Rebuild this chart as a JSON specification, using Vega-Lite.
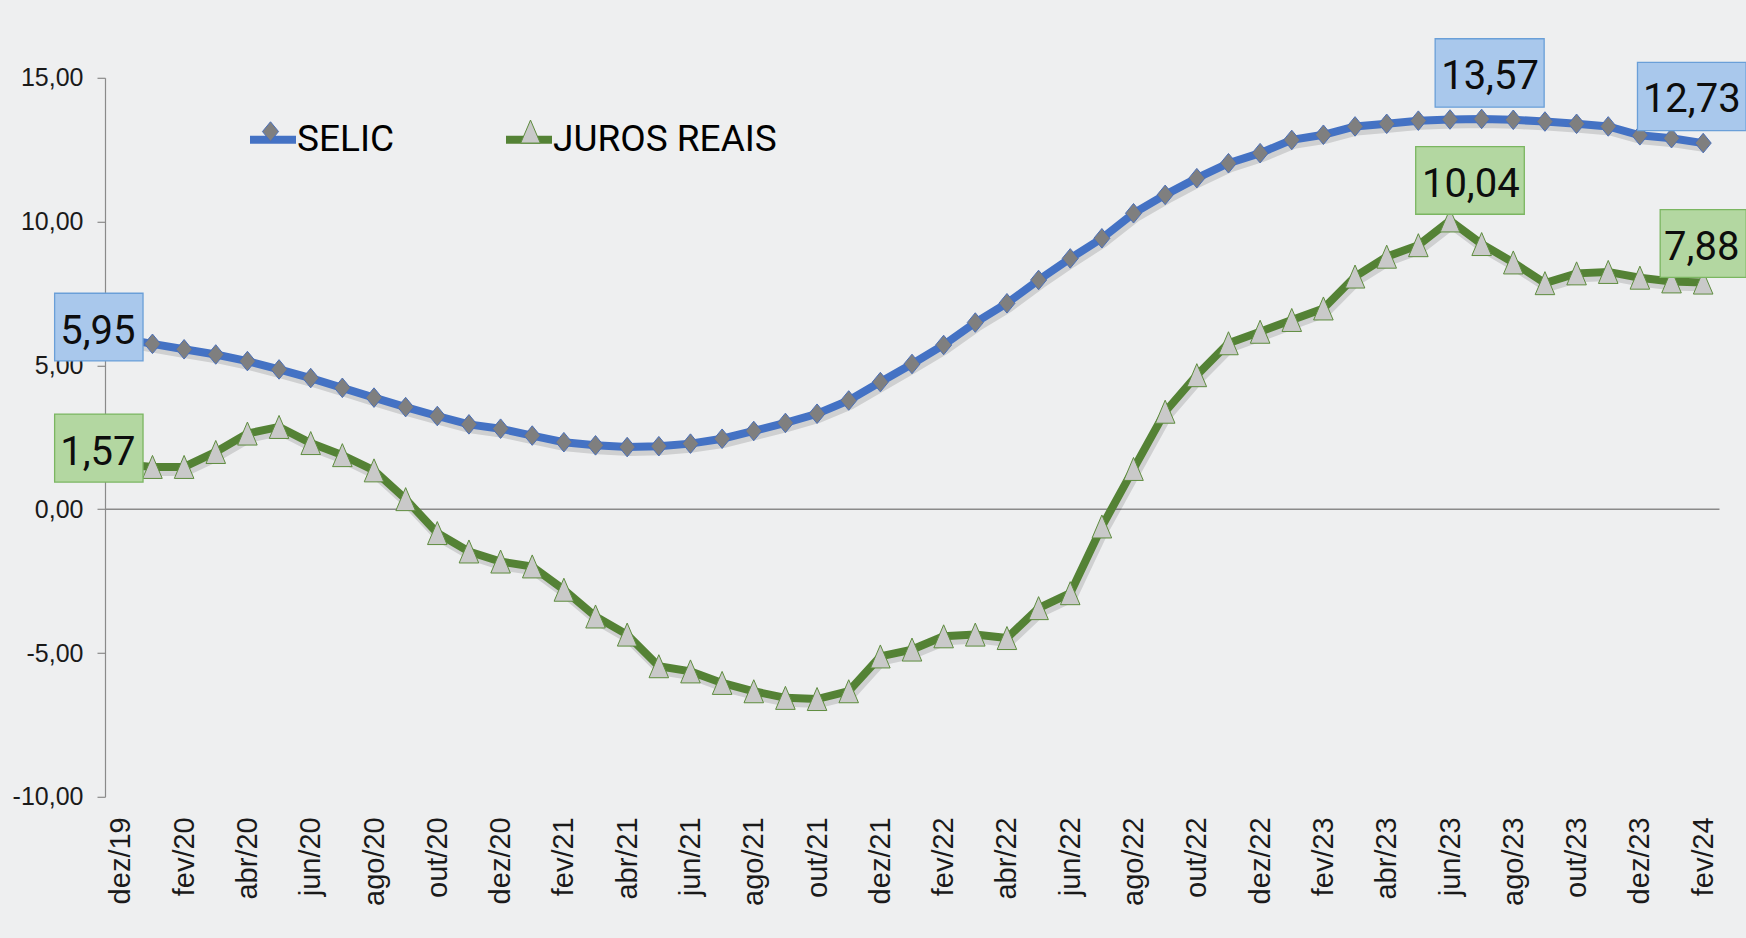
{
  "$schema": "https://vega.github.io/schema/vega-lite/v6.json",
  "width": 1614,
  "height": 719,
  "autosize": {"type": "none"},
  "padding": {"left": 105, "top": 77.8, "right": 27, "bottom": 141.2},
  "background": "#eeeff0",
  "config": {
    "view": {"stroke": null},
    "locale": {"number": {"decimal": ",", "thousands": ".", "grouping": [3], "currency": ["R$", ""], "minus": "-"}}
  },
  "datasets": {
    "taxas": [
      {"mes": "dez/19", "serie": "SELIC", "valor": 5.95},
      {"mes": "jan/20", "serie": "SELIC", "valor": 5.75},
      {"mes": "fev/20", "serie": "SELIC", "valor": 5.56},
      {"mes": "mar/20", "serie": "SELIC", "valor": 5.38},
      {"mes": "abr/20", "serie": "SELIC", "valor": 5.15},
      {"mes": "mai/20", "serie": "SELIC", "valor": 4.86},
      {"mes": "jun/20", "serie": "SELIC", "valor": 4.56},
      {"mes": "jul/20", "serie": "SELIC", "valor": 4.22},
      {"mes": "ago/20", "serie": "SELIC", "valor": 3.88},
      {"mes": "set/20", "serie": "SELIC", "valor": 3.55},
      {"mes": "out/20", "serie": "SELIC", "valor": 3.24},
      {"mes": "nov/20", "serie": "SELIC", "valor": 2.95},
      {"mes": "dez/20", "serie": "SELIC", "valor": 2.80},
      {"mes": "jan/21", "serie": "SELIC", "valor": 2.56},
      {"mes": "fev/21", "serie": "SELIC", "valor": 2.33},
      {"mes": "mar/21", "serie": "SELIC", "valor": 2.22},
      {"mes": "abr/21", "serie": "SELIC", "valor": 2.16},
      {"mes": "mai/21", "serie": "SELIC", "valor": 2.19},
      {"mes": "jun/21", "serie": "SELIC", "valor": 2.28},
      {"mes": "jul/21", "serie": "SELIC", "valor": 2.45},
      {"mes": "ago/21", "serie": "SELIC", "valor": 2.72},
      {"mes": "set/21", "serie": "SELIC", "valor": 3.00},
      {"mes": "out/21", "serie": "SELIC", "valor": 3.32},
      {"mes": "nov/21", "serie": "SELIC", "valor": 3.78},
      {"mes": "dez/21", "serie": "SELIC", "valor": 4.42},
      {"mes": "jan/22", "serie": "SELIC", "valor": 5.05},
      {"mes": "fev/22", "serie": "SELIC", "valor": 5.71},
      {"mes": "mar/22", "serie": "SELIC", "valor": 6.49},
      {"mes": "abr/22", "serie": "SELIC", "valor": 7.16},
      {"mes": "mai/22", "serie": "SELIC", "valor": 7.97},
      {"mes": "jun/22", "serie": "SELIC", "valor": 8.72},
      {"mes": "jul/22", "serie": "SELIC", "valor": 9.42},
      {"mes": "ago/22", "serie": "SELIC", "valor": 10.29},
      {"mes": "set/22", "serie": "SELIC", "valor": 10.93},
      {"mes": "out/22", "serie": "SELIC", "valor": 11.51},
      {"mes": "nov/22", "serie": "SELIC", "valor": 12.03},
      {"mes": "dez/22", "serie": "SELIC", "valor": 12.38},
      {"mes": "jan/23", "serie": "SELIC", "valor": 12.84},
      {"mes": "fev/23", "serie": "SELIC", "valor": 13.02},
      {"mes": "mar/23", "serie": "SELIC", "valor": 13.31},
      {"mes": "abr/23", "serie": "SELIC", "valor": 13.40},
      {"mes": "mai/23", "serie": "SELIC", "valor": 13.51},
      {"mes": "jun/23", "serie": "SELIC", "valor": 13.55},
      {"mes": "jul/23", "serie": "SELIC", "valor": 13.57},
      {"mes": "ago/23", "serie": "SELIC", "valor": 13.54},
      {"mes": "set/23", "serie": "SELIC", "valor": 13.48},
      {"mes": "out/23", "serie": "SELIC", "valor": 13.40},
      {"mes": "nov/23", "serie": "SELIC", "valor": 13.31},
      {"mes": "dez/23", "serie": "SELIC", "valor": 13.00},
      {"mes": "jan/24", "serie": "SELIC", "valor": 12.90},
      {"mes": "fev/24", "serie": "SELIC", "valor": 12.73},
      {"mes": "dez/19", "serie": "JUROS REAIS", "valor": 1.57},
      {"mes": "jan/20", "serie": "JUROS REAIS", "valor": 1.47},
      {"mes": "fev/20", "serie": "JUROS REAIS", "valor": 1.47},
      {"mes": "mar/20", "serie": "JUROS REAIS", "valor": 1.99},
      {"mes": "abr/20", "serie": "JUROS REAIS", "valor": 2.63},
      {"mes": "mai/20", "serie": "JUROS REAIS", "valor": 2.86},
      {"mes": "jun/20", "serie": "JUROS REAIS", "valor": 2.30},
      {"mes": "jul/20", "serie": "JUROS REAIS", "valor": 1.88},
      {"mes": "ago/20", "serie": "JUROS REAIS", "valor": 1.35},
      {"mes": "set/20", "serie": "JUROS REAIS", "valor": 0.35},
      {"mes": "out/20", "serie": "JUROS REAIS", "valor": -0.83},
      {"mes": "nov/20", "serie": "JUROS REAIS", "valor": -1.47},
      {"mes": "dez/20", "serie": "JUROS REAIS", "valor": -1.82},
      {"mes": "jan/21", "serie": "JUROS REAIS", "valor": -1.99},
      {"mes": "fev/21", "serie": "JUROS REAIS", "valor": -2.80},
      {"mes": "mar/21", "serie": "JUROS REAIS", "valor": -3.73},
      {"mes": "abr/21", "serie": "JUROS REAIS", "valor": -4.36},
      {"mes": "mai/21", "serie": "JUROS REAIS", "valor": -5.46},
      {"mes": "jun/21", "serie": "JUROS REAIS", "valor": -5.64},
      {"mes": "jul/21", "serie": "JUROS REAIS", "valor": -6.04},
      {"mes": "ago/21", "serie": "JUROS REAIS", "valor": -6.33},
      {"mes": "set/21", "serie": "JUROS REAIS", "valor": -6.56},
      {"mes": "out/21", "serie": "JUROS REAIS", "valor": -6.60},
      {"mes": "nov/21", "serie": "JUROS REAIS", "valor": -6.33},
      {"mes": "dez/21", "serie": "JUROS REAIS", "valor": -5.12},
      {"mes": "jan/22", "serie": "JUROS REAIS", "valor": -4.88},
      {"mes": "fev/22", "serie": "JUROS REAIS", "valor": -4.42},
      {"mes": "mar/22", "serie": "JUROS REAIS", "valor": -4.36},
      {"mes": "abr/22", "serie": "JUROS REAIS", "valor": -4.48},
      {"mes": "mai/22", "serie": "JUROS REAIS", "valor": -3.44},
      {"mes": "jun/22", "serie": "JUROS REAIS", "valor": -2.92},
      {"mes": "jul/22", "serie": "JUROS REAIS", "valor": -0.60},
      {"mes": "ago/22", "serie": "JUROS REAIS", "valor": 1.40},
      {"mes": "set/22", "serie": "JUROS REAIS", "valor": 3.39},
      {"mes": "out/22", "serie": "JUROS REAIS", "valor": 4.66},
      {"mes": "nov/22", "serie": "JUROS REAIS", "valor": 5.77},
      {"mes": "dez/22", "serie": "JUROS REAIS", "valor": 6.17},
      {"mes": "jan/23", "serie": "JUROS REAIS", "valor": 6.58},
      {"mes": "fev/23", "serie": "JUROS REAIS", "valor": 6.98},
      {"mes": "mar/23", "serie": "JUROS REAIS", "valor": 8.09},
      {"mes": "abr/23", "serie": "JUROS REAIS", "valor": 8.78},
      {"mes": "mai/23", "serie": "JUROS REAIS", "valor": 9.18},
      {"mes": "jun/23", "serie": "JUROS REAIS", "valor": 10.04},
      {"mes": "jul/23", "serie": "JUROS REAIS", "valor": 9.22},
      {"mes": "ago/23", "serie": "JUROS REAIS", "valor": 8.58},
      {"mes": "set/23", "serie": "JUROS REAIS", "valor": 7.86},
      {"mes": "out/23", "serie": "JUROS REAIS", "valor": 8.20},
      {"mes": "nov/23", "serie": "JUROS REAIS", "valor": 8.25},
      {"mes": "dez/23", "serie": "JUROS REAIS", "valor": 8.05},
      {"mes": "jan/24", "serie": "JUROS REAIS", "valor": 7.92},
      {"mes": "fev/24", "serie": "JUROS REAIS", "valor": 7.88}
    ]
  },
  "data": {"name": "taxas"},
  "encoding": {
    "x": {
      "field": "mes",
      "type": "ordinal",
      "sort": null,
      "scale": {"type": "point", "padding": 0.5},
      "axis": {
        "values": ["dez/19", "fev/20", "abr/20", "jun/20", "ago/20", "out/20", "dez/20", "fev/21", "abr/21", "jun/21", "ago/21", "out/21", "dez/21", "fev/22", "abr/22", "jun/22", "ago/22", "out/22", "dez/22", "fev/23", "abr/23", "jun/23", "ago/23", "out/23", "dez/23", "fev/24"],
        "title": null,
        "domain": false,
        "ticks": false,
        "grid": false,
        "labelAngle": 270,
        "labelPadding": 20,
        "labelFont": "Liberation Sans",
        "labelFontSize": 29,
        "labelColor": "#1a1a1a"
      }
    },
    "y": {
      "field": "valor",
      "type": "quantitative",
      "scale": {"domain": [-10, 15], "nice": false, "zero": false},
      "axis": {
        "values": [-10, -5, 0, 5, 10, 15],
        "format": ".2f",
        "title": null,
        "grid": true,
        "gridColor": {"condition": {"test": "datum.value === 0", "value": "#8a8a8a"}, "value": "transparent"},
        "gridWidth": 1.5,
        "domainColor": "#8a8a8a",
        "domainWidth": 1.2,
        "tickColor": "#8a8a8a",
        "tickSize": 8,
        "tickWidth": 1.2,
        "labelPadding": 14,
        "labelFont": "Liberation Sans",
        "labelFontSize": 25,
        "labelColor": "#1a1a1a"
      }
    }
  },
  "layer": [
    {
      "mark": {"type": "line", "color": "#000000", "opacity": 0.13, "strokeWidth": 10, "xOffset": 2, "yOffset": 4},
      "encoding": {"detail": {"field": "serie", "type": "nominal"}}
    },
    {
      "mark": {"type": "line", "strokeWidth": 8},
      "encoding": {
        "color": {
          "field": "serie",
          "type": "nominal",
          "sort": ["SELIC", "JUROS REAIS"],
          "scale": {"range": ["#4472c4", "#548235"]},
          "legend": {
            "orient": "none",
            "legendX": 141,
            "legendY": 35,
            "direction": "horizontal",
            "title": null,
            "symbolType": "stroke",
            "symbolSize": 2116,
            "symbolStrokeWidth": 8,
            "labelFont": "Roboto",
            "labelFontSize": 37,
            "labelColor": "#000000",
            "labelOffset": -3,
            "columnPadding": 95,
            "labelLimit": 600,
            "padding": 0
          }
        }
      }
    },
    {
      "mark": {"type": "point", "filled": true, "size": 529, "strokeWidth": 1, "opacity": 1},
      "encoding": {
        "shape": {
          "field": "serie",
          "type": "nominal",
          "scale": {"domain": ["SELIC", "JUROS REAIS"], "range": ["M0,-0.85L0.7,0L0,0.85L-0.7,0Z", "M0,-1L0.85,1L-0.85,1Z"]},
          "legend": {
            "orient": "none",
            "legendX": 147,
            "legendY": 35,
            "direction": "horizontal",
            "title": null,
            "symbolSize": 529,
            "symbolStrokeWidth": 1,
            "labelExpr": "''",
            "labelFontSize": 37,
            "labelOffset": -3,
            "columnPadding": 226,
            "padding": 0
          }
        },
        "fill": {
          "field": "serie",
          "type": "nominal",
          "scale": {"domain": ["SELIC", "JUROS REAIS"], "range": ["#7f7f7f", "#c9c9c9"]}
        },
        "stroke": {
          "field": "serie",
          "type": "nominal",
          "scale": {"domain": ["SELIC", "JUROS REAIS"], "range": ["#4a6fb8", "#5e8c3e"]}
        }
      }
    },
    {
      "transform": [{"filter": "datum.serie == 'SELIC' && datum.mes == 'dez/19'"}],
      "layer": [
        {"mark": {"type": "point", "shape": "M-1.324,-0.897H0.444V0.457H-1.324Z", "size": 10000, "filled": true, "opacity": 1, "fill": "#a9c8ec", "stroke": "#6a9fd8", "strokeWidth": 1.3}},
        {"mark": {"type": "text", "font": "Roboto", "fontSize": 40, "color": "#0d0d0d", "align": "center", "baseline": "middle", "dx": -23, "dy": -6.4},
         "encoding": {"text": {"field": "valor", "type": "quantitative", "format": ".2f"}}}
      ]
    },
    {
      "transform": [{"filter": "datum.serie == 'JUROS REAIS' && datum.mes == 'dez/19'"}],
      "layer": [
        {"mark": {"type": "point", "shape": "M-1.324,-1H0.444V0.36H-1.324Z", "size": 10000, "filled": true, "opacity": 1, "fill": "#b3d7a1", "stroke": "#7bb661", "strokeWidth": 1.3}},
        {"mark": {"type": "text", "font": "Roboto", "fontSize": 40, "color": "#0d0d0d", "align": "center", "baseline": "middle", "dx": -23, "dy": -11.5},
         "encoding": {"text": {"field": "valor", "type": "quantitative", "format": ".2f"}}}
      ]
    },
    {
      "transform": [{"filter": "datum.serie == 'SELIC' && datum.mes == 'jul/23'"}],
      "layer": [
        {"mark": {"type": "point", "shape": "M-0.93,-1.604H1.25V-0.236H-0.93Z", "size": 10000, "filled": true, "opacity": 1, "fill": "#a9c8ec", "stroke": "#6a9fd8", "strokeWidth": 1.3}},
        {"mark": {"type": "text", "font": "Roboto", "fontSize": 40, "color": "#0d0d0d", "align": "center", "baseline": "middle", "dx": 8.4, "dy": -42.2},
         "encoding": {"text": {"field": "valor", "type": "quantitative", "format": ".2f"}}}
      ]
    },
    {
      "transform": [{"filter": "datum.serie == 'JUROS REAIS' && datum.mes == 'jun/23'"}],
      "layer": [
        {"mark": {"type": "point", "shape": "M-0.686,-1.476H1.486V-0.124H-0.686Z", "size": 10000, "filled": true, "opacity": 1, "fill": "#b3d7a1", "stroke": "#7bb661", "strokeWidth": 1.3}},
        {"mark": {"type": "text", "font": "Roboto", "fontSize": 40, "color": "#0d0d0d", "align": "center", "baseline": "middle", "dx": 20.8, "dy": -35.4},
         "encoding": {"text": {"field": "valor", "type": "quantitative", "format": ".2f"}}}
      ]
    },
    {
      "transform": [{"filter": "datum.serie == 'SELIC' && datum.mes == 'fev/24'"}],
      "layer": [
        {"mark": {"type": "point", "shape": "M-1.314,-1.616H0.858V-0.248H-1.314Z", "size": 10000, "filled": true, "opacity": 1, "fill": "#a9c8ec", "stroke": "#6a9fd8", "strokeWidth": 1.3}},
        {"mark": {"type": "text", "font": "Roboto", "fontSize": 40, "color": "#0d0d0d", "align": "center", "baseline": "middle", "dx": -11.4, "dy": -43.1},
         "encoding": {"text": {"field": "valor", "type": "quantitative", "format": ".2f"}}}
      ]
    },
    {
      "transform": [{"filter": "datum.serie == 'JUROS REAIS' && datum.mes == 'fev/24'"}],
      "layer": [
        {"mark": {"type": "point", "shape": "M-0.86,-1.457H0.86V-0.103H-0.86Z", "size": 10000, "filled": true, "opacity": 1, "fill": "#b3d7a1", "stroke": "#7bb661", "strokeWidth": 1.3}},
        {"mark": {"type": "text", "font": "Roboto", "fontSize": 40, "color": "#0d0d0d", "align": "center", "baseline": "middle", "dx": -1.4, "dy": -34.3},
         "encoding": {"text": {"field": "valor", "type": "quantitative", "format": ".2f"}}}
      ]
    }
  ]
}
